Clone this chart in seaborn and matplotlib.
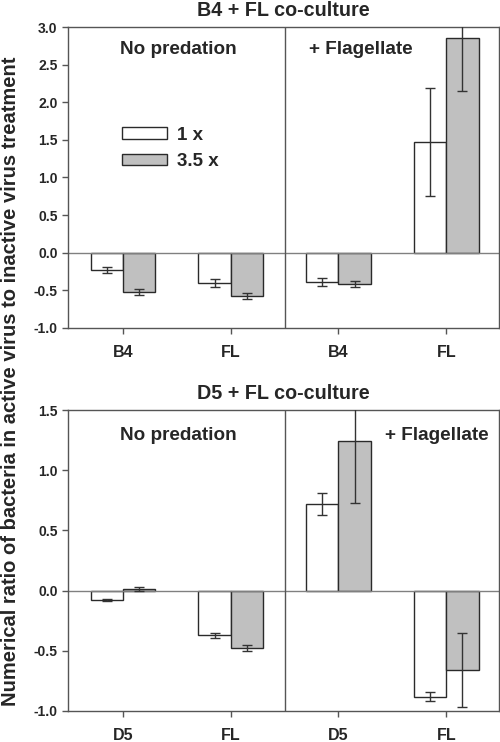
# B4 / D5 + FL co-culture: ratio of bacteria, active vs inactive virus
import numpy as np
import pandas as pd
import matplotlib
matplotlib.use("Agg")
import matplotlib.pyplot as plt
import seaborn as sns

sns.set_theme(style="ticks")
plt.rcParams["font.family"] = ["Liberation Sans", "DejaVu Sans"]
plt.rcParams["font.weight"] = "bold"

# ---------------- data ----------------
doses = ["1 x", "3.5 x"]
groups = ["g1", "g2", "g3", "g4"]

top_ticks = ["B4", "FL", "B4", "FL"]
top_1x = [-0.23, -0.40, -0.39, 1.47]
top_1x_err = [0.045, 0.055, 0.05, 0.72]
top_35x = [-0.52, -0.575, -0.415, 2.86]
top_35x_err = [0.04, 0.04, 0.035, 0.71]

bot_ticks = ["D5", "FL", "D5", "FL"]
bot_1x = [-0.08, -0.37, 0.72, -0.88]
bot_1x_err = [0.01, 0.02, 0.09, 0.04]
bot_35x = [0.015, -0.48, 1.24, -0.66]
bot_35x_err = [0.018, 0.025, 0.51, 0.31]

bar_colors = {"1 x": "white", "3.5 x": "#c0c0c0"}
edge = "#2a2a2a"
frame = "#555555"


def make_df(v1, v2):
    return pd.DataFrame({
        "group": groups * 2,
        "dose": [doses[0]] * 4 + [doses[1]] * 4,
        "value": list(v1) + list(v2),
    })


def draw_panel(ax, v1, e1, v2, e2, ticks, ylim, yticks, title, show_legend, flag_right):
    df = make_df(v1, v2)
    sns.barplot(data=df, x="group", y="value", hue="dose", order=groups,
                hue_order=doses, palette=bar_colors, width=0.6,
                edgecolor=edge, linewidth=1.0, saturation=1,
                errorbar=None, legend=show_legend, ax=ax)
    # error bars at bar centres
    for cont, errs in zip(ax.containers, [e1, e2]):
        for bar, err in zip(cont, errs):
            xc = bar.get_x() + bar.get_width() / 2
            ax.errorbar(xc, bar.get_y() + bar.get_height(), yerr=err,
                        fmt="none", ecolor="#333333", elinewidth=1.0,
                        capsize=3.5, capthick=1.0, zorder=5)

    ax.axhline(0, color="#808080", lw=1.0, zorder=1)
    ax.axvline(1.5, color=frame, lw=1.0, zorder=1)
    ax.set_xlim(-0.51, 3.49)
    ax.set_ylim(*ylim)
    ax.set_yticks(yticks)
    ax.set_yticklabels([f"{t:.1f}" for t in yticks], fontsize=10, fontweight="bold")
    ax.set_xticks(range(4))
    ax.set_xticklabels(ticks, fontsize=11.5, fontweight="bold")
    ax.tick_params(axis="both", direction="out", length=4, width=1, color=frame)
    ax.tick_params(axis="x", pad=8)
    ax.set_xlabel("")
    ax.set_ylabel("")
    for s in ax.spines.values():
        s.set_visible(True)
        s.set_color(frame)
        s.set_linewidth(1.0)
    ax.set_title(title, fontsize=14.2, fontweight="bold", pad=8)

    ty = 0.925 if not flag_right else 0.914
    ax.text(0.255, ty, "No predation", transform=ax.transAxes,
            ha="center", va="center", fontsize=13.6, fontweight="bold")
    if flag_right:
        ax.text(0.975, ty, "+ Flagellate", transform=ax.transAxes,
                ha="right", va="center", fontsize=13.6, fontweight="bold")
    else:
        ax.text(0.559, ty, "+ Flagellate", transform=ax.transAxes,
                ha="left", va="center", fontsize=13.6, fontweight="bold")

    if show_legend:
        handles, labels = ax.get_legend_handles_labels()
        ax.legend(handles, labels, loc="upper left", bbox_to_anchor=(0.085, 0.725),
                  frameon=False, handlelength=2.4, handleheight=0.55,
                  handletextpad=0.55, labelspacing=0.5,
                  prop={"size": 13.5, "weight": "bold"})


fig = plt.figure(figsize=(5, 7.42), dpi=100)
ax1 = fig.add_axes([0.136, 0.558, 0.862, 0.4056])
ax2 = fig.add_axes([0.136, 0.0418, 0.862, 0.4056])

draw_panel(ax1, top_1x, top_1x_err, top_35x, top_35x_err, top_ticks,
           (-1.0, 3.0), np.arange(-1.0, 3.01, 0.5), "B4 + FL co-culture",
           True, False)
draw_panel(ax2, bot_1x, bot_1x_err, bot_35x, bot_35x_err, bot_ticks,
           (-1.0, 1.5), np.arange(-1.0, 1.51, 0.5), "D5 + FL co-culture",
           False, True)

fig.text(0.021, 0.4865,
         "Numerical ratio of bacteria in active virus to inactive virus treatment",
         rotation=90, ha="center", va="center", fontsize=14.5, fontweight="bold")

fig.savefig("out.png", dpi=100)
